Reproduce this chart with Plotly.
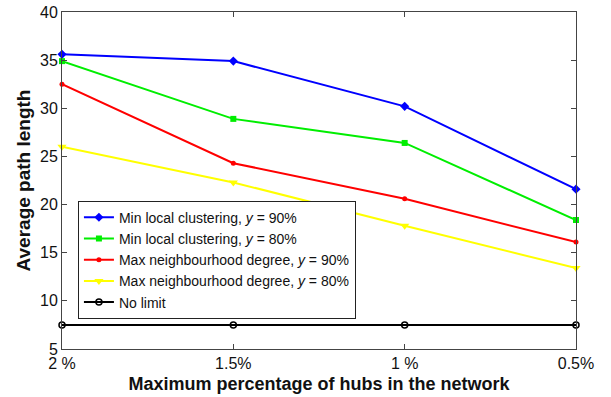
import plotly.graph_objects as go

# Maximum share of hubs allowed in the network
hub_limits = ["2 %", "1.5%", "1 %", "0.5%"]

# Average path length for each hub-selection strategy
min_clust_90 = [35.6, 34.9, 30.2, 21.6]
min_clust_80 = [34.9, 28.9, 26.4, 18.4]
max_neigh_90 = [32.5, 24.3, 20.6, 16.1]
max_neigh_80 = [26.0, 22.3, 17.8, 13.4]
no_limit = [7.5, 7.5, 7.5, 7.5]

series = [
    ("Min local clustering, <i>y</i> = 90%", min_clust_90, "#0000ff",
     dict(symbol="diamond", size=7)),
    ("Min local clustering, <i>y</i> = 80%", min_clust_80, "#00ee00",
     dict(symbol="square", size=6)),
    ("Max neighbourhood degree, <i>y</i> = 90%", max_neigh_90, "#ff0000",
     dict(symbol="circle", size=5)),
    ("Max neighbourhood degree, <i>y</i> = 80%", max_neigh_80, "#ffff00",
     dict(symbol="triangle-down", size=8)),
    ("No limit", no_limit, "#000000",
     dict(symbol="circle-open", size=6, line=dict(width=1.5))),
]

fig = go.Figure()
for name, vals, color, mk in series:
    fig.add_trace(go.Scatter(
        x=hub_limits, y=vals, name=name, mode="lines+markers",
        line=dict(color=color, width=2),
        marker=dict(color=color, **mk),
        cliponaxis=False,
    ))

axis_common = dict(
    showline=True, linecolor="#444", linewidth=1, mirror="ticks",
    ticks="inside", ticklen=5, tickcolor="#444", showgrid=False,
    zeroline=False, tickfont=dict(size=16, color="#111"),
    automargin=False,
)

fig.update_layout(
    width=611, height=397,
    margin=dict(l=62, r=35, t=12, b=48),
    paper_bgcolor="white", plot_bgcolor="white",
    font=dict(family="Liberation Sans, Arial, sans-serif", color="#111"),
    showlegend=True,
    legend=dict(
        x=0.031, y=0.44, xanchor="left", yanchor="top",
        bgcolor="white", bordercolor="#222", borderwidth=1,
        font=dict(size=14), itemwidth=30, tracegroupgap=0,
    ),
    xaxis=dict(
        type="category", range=[0, 3],
        title=dict(text="<b>Maximum percentage of hubs in the network</b>",
                   font=dict(size=18), standoff=6),
        **axis_common,
    ),
    yaxis=dict(
        range=[5, 40], dtick=5,
        title=dict(text="<b>Average path length</b>",
                   font=dict(size=19), standoff=4),
        **axis_common,
    ),
)

fig.write_html("out.html")
